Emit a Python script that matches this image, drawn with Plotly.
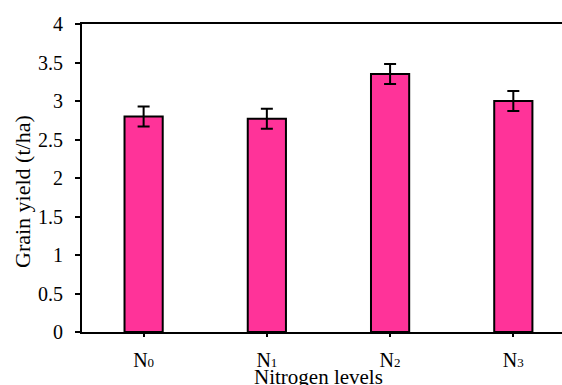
import plotly.graph_objects as go

categories = [
    "N<span style='font-size:13px'>0</span>",
    "N<span style='font-size:13px'>1</span>",
    "N<span style='font-size:13px'>2</span>",
    "N<span style='font-size:13px'>3</span>",
]
grain_yield = [2.80, 2.77, 3.35, 3.00]
errors = [0.13, 0.13, 0.13, 0.13]
y_ticks = [0, 0.5, 1, 1.5, 2, 2.5, 3, 3.5, 4]
y_tick_labels = ["0", "0.5", "1", "1.5", "2", "2.5", "3", "3.5", "4"]
x_title = "Nitrogen levels"
y_title = "Grain yield (t/ha)"

font_family = "Liberation Serif, Times New Roman, serif"

fig = go.Figure()
fig.add_trace(go.Bar(
    x=list(range(len(categories))),
    y=grain_yield,
    marker=dict(color="#FF3399", line=dict(color="black", width=2)),
    error_y=dict(type="data", array=errors, visible=True, color="black", thickness=2, width=6),
    width=0.31,
))

fig.update_layout(
    width=562, height=385,
    margin=dict(l=82, r=0, t=24, b=53),
    plot_bgcolor="white", paper_bgcolor="white",
    showlegend=False,
    font=dict(family=font_family, color="black", size=20),
)
fig.update_xaxes(
    range=[-0.5, 3.395],
    tickmode="array", tickvals=list(range(len(categories))), ticktext=categories,
    showline=True, linecolor="black", linewidth=2, mirror=True,
    ticks="outside", ticklen=3, tickwidth=2, tickcolor="black",
    tickfont=dict(size=20, family=font_family),
    ticklabelstandoff=6,
    showgrid=False, zeroline=False,
)
fig.update_yaxes(
    range=[0, 4],
    tickmode="array", tickvals=y_ticks, ticktext=y_tick_labels,
    showline=True, linecolor="black", linewidth=2,
    ticks="outside", ticklen=5, tickwidth=2, tickcolor="black",
    tickfont=dict(size=20, family=font_family),
    ticklabelstandoff=8,
    showgrid=False, zeroline=False,
)
fig.add_annotation(
    text=x_title, xref="paper", yref="paper", x=0.492, y=0,
    xanchor="center", yanchor="middle", yshift=-45, showarrow=False,
    font=dict(size=21, family=font_family, color="black"),
)
fig.add_annotation(
    text=y_title, xref="paper", yref="paper", x=0, y=0.5,
    xanchor="center", yanchor="middle", xshift=-60, yshift=-14,
    textangle=-90, showarrow=False,
    font=dict(size=22, family=font_family, color="black"),
)

fig.write_html("out.html")
